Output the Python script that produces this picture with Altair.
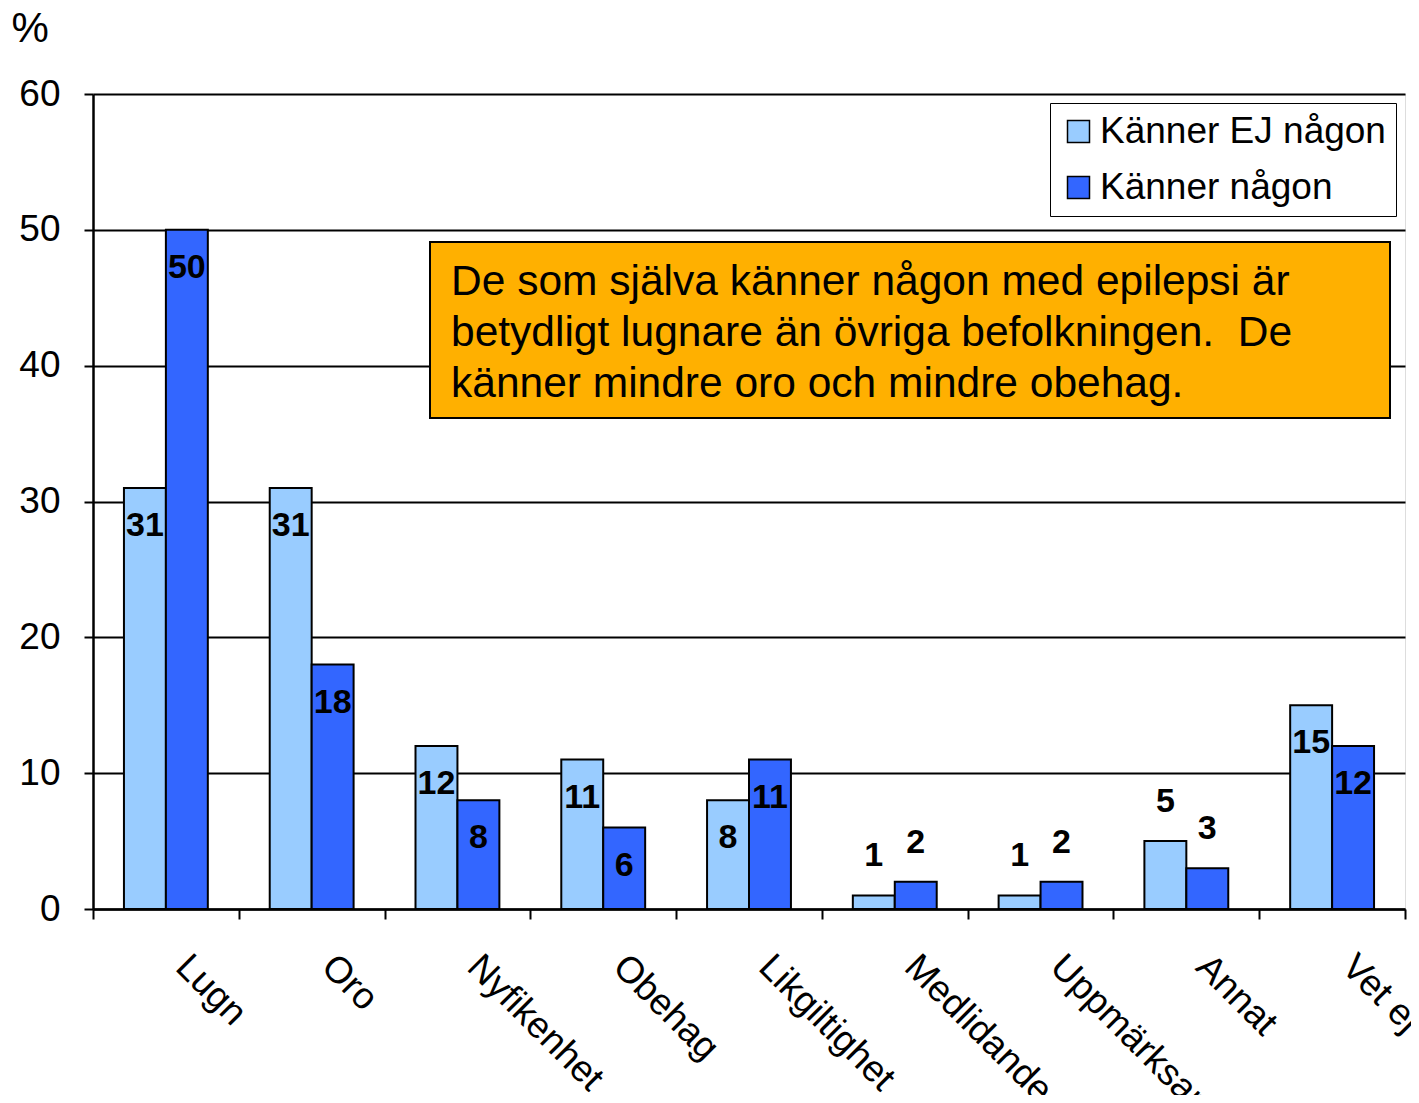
import altair as alt
import pandas as pd

categories = ["Lugn", "Oro", "Nyfikenhet", "Obehag", "Likgiltighet",
              "Medlidande", "Uppmärksamhet", "Annat", "Vet ej"]
series_names = ["Känner EJ någon", "Känner någon"]
kanner_ej = [31, 31, 12, 11, 8, 1, 1, 5, 15]
kanner = [50, 18, 8, 6, 11, 2, 2, 3, 12]
colors = ["#99CCFF", "#3366FF"]
note_lines = ["De som själva känner någon med epilepsi är",
              "betydligt lugnare än övriga befolkningen.\u00a0 De",
              "känner mindre oro och mindre obehag."]

rows = []
for c, a, b in zip(categories, kanner_ej, kanner):
    rows.append({"kategori": c, "serie": series_names[0], "varde": a})
    rows.append({"kategori": c, "serie": series_names[1], "varde": b})
df = pd.DataFrame(rows)

FONT = "Liberation Sans"
W, H = 1312, 815

x = alt.X("kategori:N", sort=categories,
          scale=alt.Scale(paddingInner=0, paddingOuter=0),
          axis=alt.Axis(title=None, labelAngle=45, labelAlign="left",
                        labelBaseline="top", labelFontSize=37, labelFont=FONT,
                        labelColor="black", labelPadding=29, labelOffset=28,
                        labelLimit=1000,
                        tickBand="extent", tickSize=10, tickWidth=2, tickColor="black",
                        domainColor="black", domainWidth=2.5, grid=False))
y = alt.Y("varde:Q", scale=alt.Scale(domain=[0, 60], nice=False),
          axis=alt.Axis(title="%", titleAngle=0, titleFontSize=42, titleFont=FONT,
                        titleFontWeight="normal", titleAlign="left", titleBaseline="alphabetic",
                        titleX=-82, titleY=-53, titleColor="black",
                        values=[0, 10, 20, 30, 40, 50, 60],
                        labelFontSize=37, labelFont=FONT, labelColor="black",
                        labelPadding=24, tickSize=9, tickWidth=2, tickColor="black",
                        domainColor="black", domainWidth=2.5,
                        grid=True, gridColor="black", gridWidth=2, gridOpacity=1))
xo = alt.XOffset("serie:N", sort=series_names,
                 scale=alt.Scale(paddingInner=0, paddingOuter=0.738))

bars = alt.Chart(df).mark_bar(stroke="black", strokeWidth=2).encode(
    x=x, y=y, xOffset=xo,
    color=alt.Color("serie:N", sort=series_names,
                    scale=alt.Scale(domain=series_names, range=colors),
                    legend=alt.Legend(title=None, orient="none", legendX=957, legendY=9,
                                      direction="vertical", fillColor="white",
                                      strokeColor="black", padding=10,
                                      labelFontSize=37, labelFont=FONT, labelColor="black",
                                      symbolType="square", symbolSize=484,
                                      symbolStrokeColor="black", symbolStrokeWidth=1.5,
                                      labelOffset=3, rowPadding=18, labelLimit=500))
)

lbl_common = dict(fontSize=34, fontWeight="bold", font=FONT, color="black", baseline="middle")
inside = alt.Chart(df).transform_filter("datum.varde >= 6").mark_text(dy=38, **lbl_common).encode(
    x=alt.X("kategori:N", sort=categories), y="varde:Q",
    xOffset=xo, text="varde:Q")
above = alt.Chart(df).transform_filter("datum.varde < 6").mark_text(dy=-39, **lbl_common).encode(
    x=alt.X("kategori:N", sort=categories), y="varde:Q",
    xOffset=xo, text="varde:Q")

note_box = alt.Chart(pd.DataFrame({"a": [0]})).mark_rect(
    fill="#FFB000", stroke="black", strokeWidth=2).encode(
    x=alt.value(337), x2=alt.value(1297), y=alt.value(148), y2=alt.value(324))
note_text = alt.Chart(pd.DataFrame({"t": [note_lines]})).mark_text(
    align="left", baseline="alphabetic", fontSize=42.5, font=FONT, color="black",
    lineHeight=51).encode(x=alt.value(358), y=alt.value(201), text="t")

chart = alt.layer(bars, inside, above, note_box, note_text).properties(
    width=W, height=H,
    autosize=alt.AutoSizeParams(type="none"),
    padding={"left": 85, "top": 86, "right": 6, "bottom": 186},
).configure_view(stroke="black", strokeWidth=2.5).configure(background="white")

chart.save("out.html", embed_options={"renderer": "svg", "actions": False})
